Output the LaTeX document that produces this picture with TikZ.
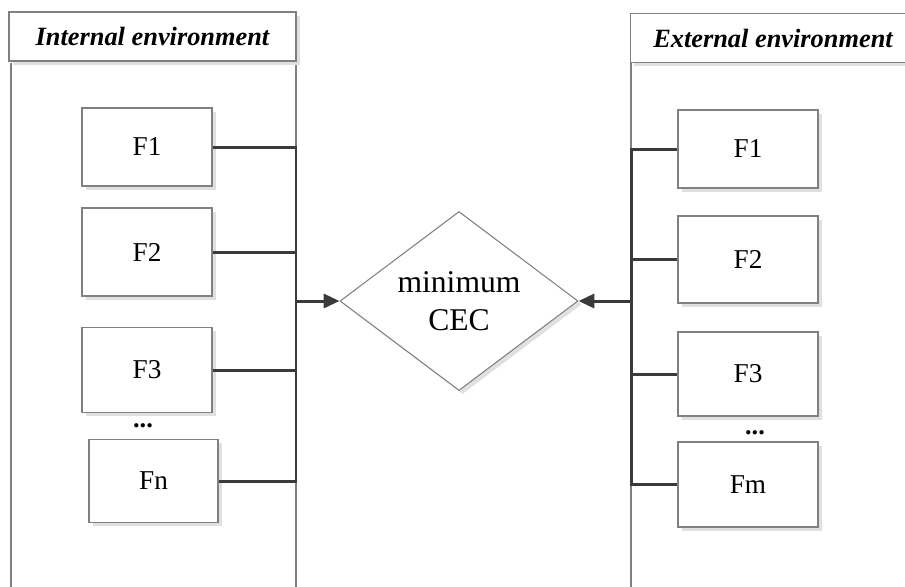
\documentclass[tikz,border=0pt]{standalone}
\usepackage{fontspec}
\setmainfont{Liberation Serif}
\usepackage{tikz}
\usetikzlibrary{shapes.geometric,arrows.meta,shadows}

\definecolor{framegray}{HTML}{808080}
\definecolor{busgray}{HTML}{3A3A3A}
\tikzset{
    shade/.style={drop shadow={shadow xshift=2pt, shadow yshift=-2pt, fill=black!12, opacity=1}},
    factor/.style={draw=framegray, line width=0.7pt, fill=white, shade, inner sep=0pt,
        font=\fontsize{15.5}{18}\selectfont},
    header/.style={draw=framegray, line width=0.7pt, fill=white, shade, inner sep=0pt,
        minimum height=49*0.02cm, font=\fontsize{15}{18}\selectfont\bfseries\itshape},
    bus/.style={draw=busgray, line width=1.7pt},
    dots/.style={font=\fontsize{15}{18}\selectfont\bfseries, inner sep=0pt},
}

\begin{document}
\begin{tikzpicture}[x=0.02cm, y=-0.02cm]
        \useasboundingbox (0,0) rectangle (905,586);
        \draw[framegray, line width=0.6pt] (11,63) -- (11,590) (296,63) -- (296,590);
        \draw[framegray, line width=0.6pt] (631,63) -- (631,590);
        \node[header, minimum width=287*0.02cm] (inthead) at (152.5,36.5) {Internal environment};
        \node[header, minimum width=280*0.02cm, anchor=west] (exthead) at (630,38) {};
        \node (exttitle) at (773,38) {\fontsize{15}{18}\selectfont\bfseries\itshape External environment};

        \node[factor, minimum width=130*0.02cm, minimum height=78*0.02cm] (if1) at (147,147) {F1};
        \node[factor, minimum width=130*0.02cm, minimum height=88*0.02cm] (if2) at (147,252) {F2};
        \node[factor, minimum width=130*0.02cm, minimum height=85*0.02cm] (if3) at (147,370) {F3};
        \node[dots] (idots) at (143,426) {...};
        \node[factor, minimum width=129*0.02cm, minimum height=83*0.02cm] (ifn) at (153.5,481) {Fn};

        \node[factor, minimum width=140*0.02cm, minimum height=78*0.02cm] (ef1) at (748,149) {F1};
        \node[factor, minimum width=140*0.02cm, minimum height=87*0.02cm] (ef2) at (748,259.5) {F2};
        \node[factor, minimum width=140*0.02cm, minimum height=84*0.02cm] (ef3) at (748,374) {F3};
        \node[dots] (edots) at (755,433) {...};
        \node[factor, minimum width=140*0.02cm, minimum height=85*0.02cm] (efm) at (748,484.5) {Fm};

        \node[draw=framegray, line width=0.6pt, fill=white, shade, diamond, aspect=1.33, inner sep=0pt,
            minimum width=238*0.02cm, minimum height=179*0.02cm, align=center,
            font=\fontsize{18}{22}\selectfont] (cec) at (459,301) {minimum\\CEC};

        \coordinate (ibus) at (296,301);
        \coordinate (ebus) at (631,301);
        \draw[bus] (if1.east) -- (if1.east -| ibus) -- (ifn.east -| ibus) -- (ifn.east);
        \draw[bus] (if2.east) -- (if2.east -| ibus);
        \draw[bus] (if3.east) -- (if3.east -| ibus);
        \draw[bus] (ef1.west) -- (ef1.west -| ebus) -- (efm.west -| ebus) -- (efm.west);
        \draw[bus] (ef2.west) -- (ef2.west -| ebus);
        \draw[bus] (ef3.west) -- (ef3.west -| ebus);
        \draw[bus, -{Triangle[length=9pt, width=8pt]}] (ibus) -- (cec.west);
        \draw[bus, -{Triangle[length=9pt, width=8pt]}] (ebus) -- (cec.east);
    \end{tikzpicture}
\end{document}
